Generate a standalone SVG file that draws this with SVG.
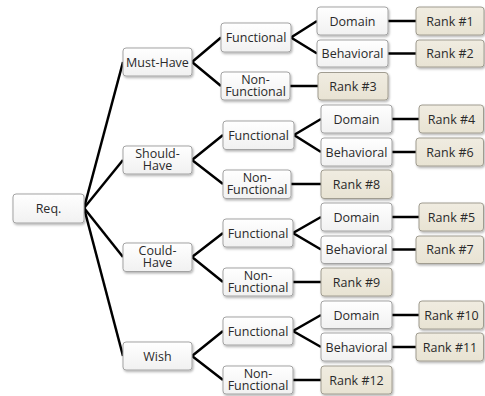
<svg xmlns="http://www.w3.org/2000/svg" width="485" height="396" viewBox="0 0 485 396">
<defs>
<linearGradient id="gw" x1="0" y1="0" x2="0" y2="1"><stop offset="0" stop-color="#ffffff"/><stop offset="1" stop-color="#f1f1f1"/></linearGradient>
<linearGradient id="gr" x1="0" y1="0" x2="0" y2="1"><stop offset="0" stop-color="#f0ece1"/><stop offset="1" stop-color="#e8e3d3"/></linearGradient>
<filter id="sh" x="-10%" y="-10%" width="130%" height="140%"><feDropShadow dx="1" dy="1.5" stdDeviation="1" flood-color="#000" flood-opacity="0.3"/></filter>
</defs>
<style>
.w{fill:url(#gw);stroke:#a3a3a3;stroke-width:1;filter:url(#sh)}
.r{fill:url(#gr);stroke:#a09c90;stroke-width:1;filter:url(#sh)}
text{font-family:"Open Sans","DejaVu Sans",sans-serif;font-size:12.5px;fill:#2a2a2a;text-anchor:middle}
.c line,.c polyline{stroke:#000;stroke-width:2.5;fill:none}
</style>
<rect width="485" height="396" fill="#fff"/>
<g class="c" id="connectors">
<line x1="84" y1="208" x2="123" y2="62"/>
<line x1="84" y1="208" x2="123" y2="160"/>
<line x1="84" y1="208" x2="123" y2="257"/>
<line x1="84" y1="208" x2="123" y2="356"/>
<polyline points="221,37.5 192,62 221,86"/>
<polyline points="223,135 192,160 223,184"/>
<polyline points="223,233 192,257 223,282"/>
<polyline points="223,331 192,356 223,380"/>
<polyline points="317,21 291,37.5 317,53.5"/>
<polyline points="321,119 294,135 321,152"/>
<polyline points="321,217 293,233 321,249.5"/>
<polyline points="321,315 293,331 321,347"/>
<line x1="388" y1="21" x2="416" y2="21"/>
<line x1="388" y1="53.5" x2="416" y2="53.5"/>
<line x1="290" y1="86" x2="318" y2="86"/>
<line x1="392" y1="119" x2="419" y2="119"/>
<line x1="392" y1="152" x2="416" y2="152"/>
<line x1="291" y1="184" x2="321" y2="184"/>
<line x1="392" y1="217" x2="419" y2="217"/>
<line x1="392" y1="249.5" x2="416" y2="249.5"/>
<line x1="293" y1="282" x2="321" y2="282"/>
<line x1="392" y1="315" x2="419" y2="315"/>
<line x1="392" y1="347" x2="416" y2="347"/>
<line x1="293" y1="380" x2="321" y2="380"/>
</g>
<g id="req"><rect class="w" x="13" y="194" width="71" height="29" rx="3"/><text x="48.5" y="212.5">Req.</text></g>
<g id="must"><rect class="w" x="123" y="48" width="69" height="28" rx="3"/><text x="157.5" y="66.5">Must-Have</text></g>
<g id="should"><rect class="w" x="123" y="146" width="69" height="28" rx="3"/><text x="157.5" y="157.5">Should-<tspan x="157.5" dy="12.5">Have</tspan></text></g>
<g id="could"><rect class="w" x="123" y="243" width="69" height="28.5" rx="3"/><text x="157.5" y="254.5">Could-<tspan x="157.5" dy="12.5">Have</tspan></text></g>
<g id="wish"><rect class="w" x="123" y="342" width="69" height="28" rx="3"/><text x="157.5" y="360.5">Wish</text></g>

<g id="f1"><rect class="w" x="221" y="23" width="70" height="29" rx="3"/><text x="256" y="42">Functional</text></g>
<g id="nf1"><rect class="w" x="221" y="72" width="69" height="28" rx="3"/><text x="255.5" y="83.5">Non-<tspan x="255.5" dy="12.5">Functional</tspan></text></g>
<g id="f2"><rect class="w" x="223" y="121" width="71" height="28.5" rx="3"/><text x="258.5" y="140">Functional</text></g>
<g id="nf2"><rect class="w" x="223" y="170" width="68" height="28.5" rx="3"/><text x="257" y="181.5">Non-<tspan x="257" dy="12.5">Functional</tspan></text></g>
<g id="f3"><rect class="w" x="223" y="219" width="70" height="28" rx="3"/><text x="258" y="237.5">Functional</text></g>
<g id="nf3"><rect class="w" x="223" y="268" width="70" height="28" rx="3"/><text x="258" y="279.5">Non-<tspan x="258" dy="12.5">Functional</tspan></text></g>
<g id="f4"><rect class="w" x="223" y="317" width="70" height="28" rx="3"/><text x="258" y="335.5">Functional</text></g>
<g id="nf4"><rect class="w" x="223" y="366" width="70" height="28" rx="3"/><text x="258" y="377.5">Non-<tspan x="258" dy="12.5">Functional</tspan></text></g>

<g id="d1"><rect class="w" x="317" y="7" width="71" height="28" rx="3"/><text x="352.5" y="25.5">Domain</text></g>
<g id="b1"><rect class="w" x="317" y="40" width="71" height="27" rx="3"/><text x="352.5" y="58">Behavioral</text></g>
<g id="d2"><rect class="w" x="321" y="105" width="71" height="28" rx="3"/><text x="356.5" y="123.5">Domain</text></g>
<g id="b2"><rect class="w" x="321" y="138" width="71" height="28" rx="3"/><text x="356.5" y="156.5">Behavioral</text></g>
<g id="d3"><rect class="w" x="321" y="203" width="71" height="28" rx="3"/><text x="356.5" y="221.5">Domain</text></g>
<g id="b3"><rect class="w" x="321" y="236" width="71" height="27.5" rx="3"/><text x="356.5" y="254">Behavioral</text></g>
<g id="d4"><rect class="w" x="321" y="301" width="71" height="27.5" rx="3"/><text x="356.5" y="319.5">Domain</text></g>
<g id="b4"><rect class="w" x="321" y="333" width="71" height="28" rx="3"/><text x="356.5" y="351.5">Behavioral</text></g>

<g id="r1"><rect class="r" x="416" y="7" width="68" height="28" rx="3"/><text x="450" y="25.5">Rank #1</text></g>
<g id="r2"><rect class="r" x="416" y="40" width="68" height="27" rx="3"/><text x="450" y="58">Rank #2</text></g>
<g id="r3"><rect class="r" x="318" y="72.5" width="70" height="27.5" rx="3"/><text x="353" y="90.5">Rank #3</text></g>
<g id="r4"><rect class="r" x="419" y="105" width="64.5" height="28" rx="3"/><text x="451.5" y="123.5">Rank #4</text></g>
<g id="r6"><rect class="r" x="416" y="138" width="67.5" height="28" rx="3"/><text x="450" y="156.5">Rank #6</text></g>
<g id="r8"><rect class="r" x="321" y="170" width="71" height="28.5" rx="3"/><text x="356.5" y="188.5">Rank #8</text></g>
<g id="r5"><rect class="r" x="419" y="203" width="64.5" height="28" rx="3"/><text x="451.5" y="221.5">Rank #5</text></g>
<g id="r7"><rect class="r" x="416" y="236" width="67.5" height="27.5" rx="3"/><text x="450" y="254">Rank #7</text></g>
<g id="r9"><rect class="r" x="321" y="268" width="71" height="28" rx="3"/><text x="356.5" y="286.5">Rank #9</text></g>
<g id="r10"><rect class="r" x="419" y="301" width="64.5" height="28" rx="3"/><text x="451.5" y="319.5">Rank #10</text></g>
<g id="r11"><rect class="r" x="416" y="333" width="67.5" height="28" rx="3"/><text x="450" y="351.5">Rank #11</text></g>
<g id="r12"><rect class="r" x="321" y="366" width="71" height="28" rx="3"/><text x="356.5" y="384.5">Rank #12</text></g>
</svg>
